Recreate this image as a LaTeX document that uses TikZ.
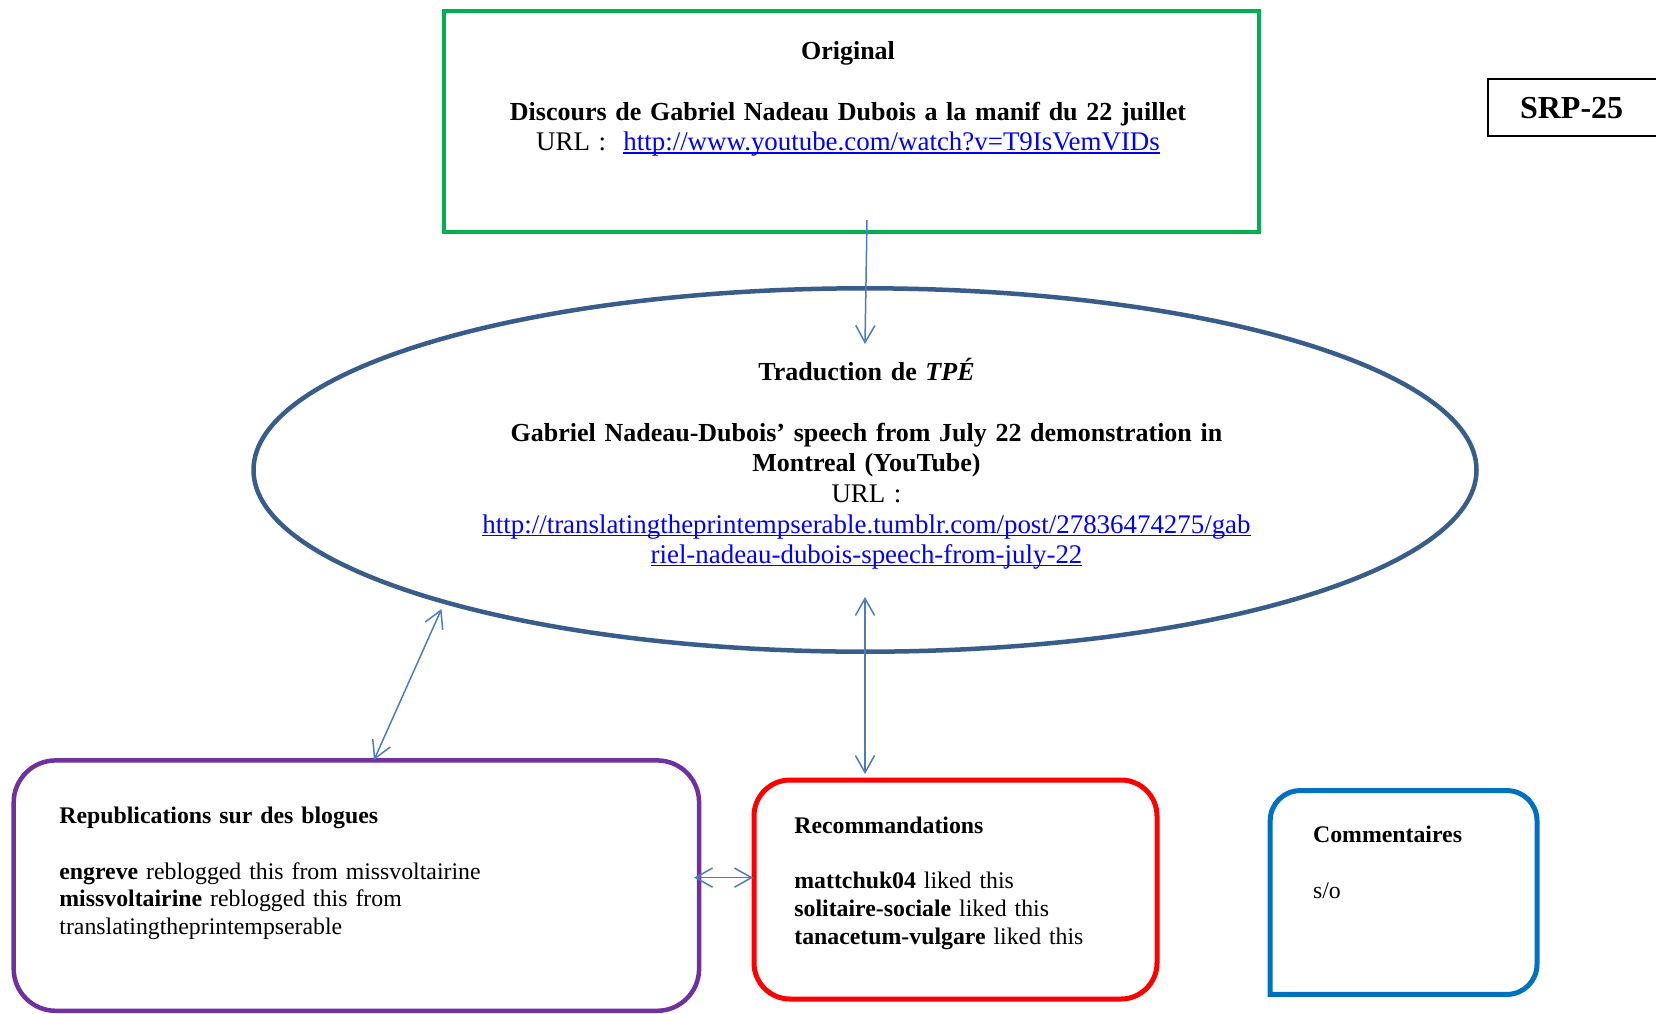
\documentclass[tikz,border=0pt]{standalone}
\usepackage{fontspec}
\setmainfont{Liberation Serif}
\usetikzlibrary{arrows.meta,shapes.geometric}
\definecolor{grn}{HTML}{00B050}
\definecolor{ellc}{HTML}{385D8A}
\definecolor{purp}{HTML}{7030A0}
\definecolor{redc}{HTML}{FF0000}
\definecolor{bluc}{HTML}{0070C0}
\definecolor{arrc}{HTML}{4A7EBB}
\definecolor{linkc}{HTML}{0000FF}
\newcommand{\lnk}[1]{\leavevmode{\color{linkc}\setbox0\hbox{#1}\rlap{\rule[-1.4pt]{\wd0}{0.6pt}}\box0}}
\newcommand{\regtop}{\fontsize{13.45}{15.3}\selectfont}
\begin{document}
\begin{tikzpicture}[x=0.5pt,y=-0.5pt,
  boxshape/.style={draw,inner sep=0pt},
  toptext/.style={font=\fontsize{13.0}{15.3}\selectfont,text width=420pt,align=center,inner sep=0pt,anchor=base},
  bottext/.style={font=\fontsize{11.9}{13.9}\selectfont,text width=320pt,align=left,inner sep=0pt,anchor=base west},
  arr/.style={draw=arrc,line width=0.75pt,arrows={-Straight Barb[length=8.5pt,width=9.6pt]}},
  arrb/.style={draw=arrc,line width=0.75pt,arrows={Straight Barb[length=8.5pt,width=9.6pt]-Straight Barb[length=8.5pt,width=9.6pt]}}]
\useasboundingbox[fill=white] (0,0) rectangle (1656,1013);

% shapes
\node[boxshape,draw=grn,line width=2pt,minimum width=407.7pt,minimum height=110.9pt] (orig) at (851.3,121.5) {};
\node[boxshape,draw=black,line width=1pt,minimum width=100pt,minimum height=28.5pt,anchor=north west] (srp) at (1487,78) {};
\node[ellipse,boxshape,draw=ellc,line width=2.25pt,minimum width=611.5pt,minimum height=181.7pt] (trad) at (865,470) {};
\node[boxshape,draw=purp,line width=2.25pt,rounded corners=21pt,minimum width=342.7pt,minimum height=125.2pt] (repub) at (356.4,885.6) {};
\node[boxshape,draw=redc,line width=2.5pt,rounded corners=18pt,minimum width=201.5pt,minimum height=109.5pt] (recom) at (955.5,889.5) {};
\node[inner sep=0pt,minimum width=133pt,minimum height=101.5pt] (comm) at (1403.6,892.5) {};
\draw[bluc,line width=2.5pt] (comm.south west) [rounded corners=15pt] -- (comm.north west) -- (comm.north east) -- (comm.south east) [sharp corners] -- cycle;

% texts
\node[toptext] (origtxt) at (848,59) {\textbf{Original}\\ \mbox{}\\ \textbf{Discours de Gabriel Nadeau Dubois a la manif du 22 juillet}\\ {\regtop URL :\ \ \lnk{http://www.youtube.com/watch?v=T9IsVemVIDs}}};
\node[inner sep=0pt,anchor=base,font=\fontsize{16}{18}\selectfont\bfseries] (srptxt) at (1571.6,118) {SRP-25};
\node[toptext] (tradtxt) at (866.5,380) {\textbf{Traduction de \textit{TPÉ}}\\ \mbox{}\\ \textbf{Gabriel Nadeau-Dubois’ speech from July 22 demonstration in}\\ \textbf{Montreal (YouTube)}\\ {\regtop URL :}\\ {\regtop\lnk{http://translatingtheprintempserable.tumblr.com/post/27836474275/gab}}\\ {\regtop\lnk{riel-nadeau-dubois-speech-from-july-22}}};
\node[bottext] (repubtxt) at (59,823.4) {\textbf{Republications sur des blogues}\\ \mbox{}\\ \textbf{engreve} reblogged this from missvoltairine\\ \textbf{missvoltairine} reblogged this from\\ translatingtheprintempserable};
\node[bottext] (recomtxt) at (794,833) {\textbf{Recommandations}\\ \mbox{}\\ \textbf{mattchuk04} liked this\\ \textbf{solitaire-sociale} liked this\\ \textbf{tanacetum-vulgare} liked this};
\node[bottext,text width=100pt] (commtxt) at (1312.7,842.4) {\textbf{Commentaires}\\ \mbox{}\\ s/o};

% connectors
\coordinate (a1s) at (867,220);
\coordinate (a1e) at (865,344);
\coordinate (a2s) at (865,597);
\coordinate (a2e) at (865,774);
\coordinate (a3s) at (441.5,609);
\coordinate (a3e) at (374,760);
\coordinate (a4s) at (694,877.6);
\coordinate (a4e) at (753,877.6);
\draw[arr] (a1s) -- (a1e);
\draw[arrb] (a2s) -- (a2e);
\draw[arrb] (a3s) -- (a3e);
\draw[arrb] (a4s) -- (a4e);
\end{tikzpicture}
\end{document}
